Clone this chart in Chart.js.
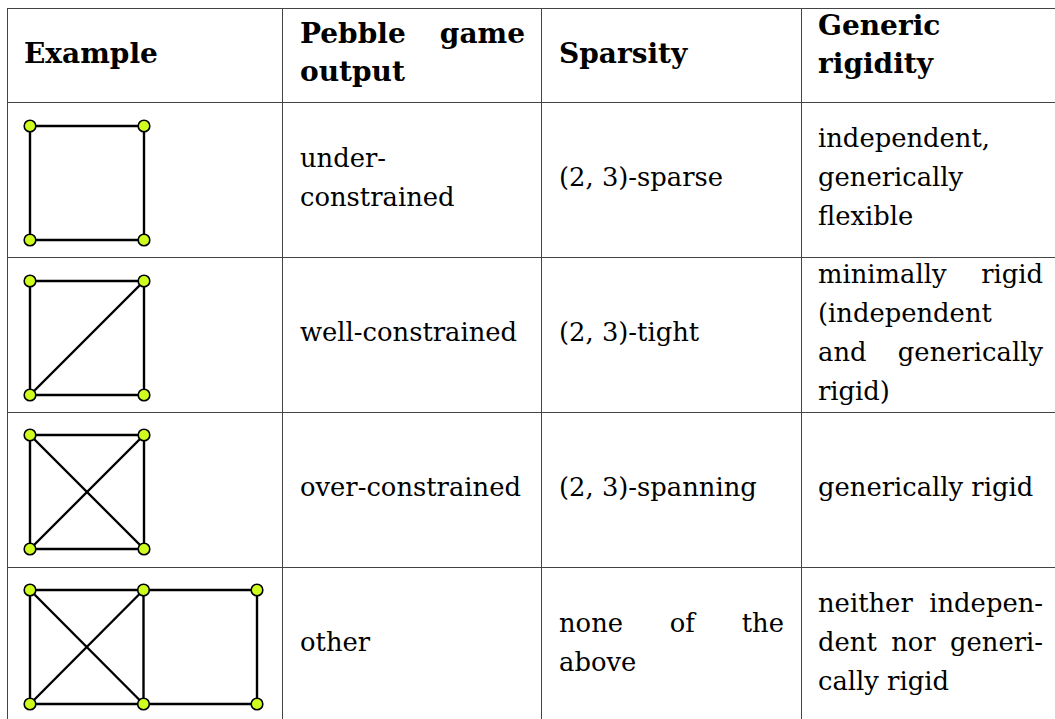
<!DOCTYPE html>
<html>
<head>
<meta charset="utf-8">
<script src="https://cdn.jsdelivr.net/npm/chart.js@4.4.0/dist/chart.umd.min.js"></script>
<style>
  body { margin: 0; width: 1055px; height: 719px; overflow: hidden; background: #fff; position: relative;
         font-family: "DejaVu Serif", serif; color: #000; }
  .hline { position: absolute; left: 7px; width: 1100px; height: 1px; background: #444; }
  .vline { position: absolute; top: 8px; height: 800px; width: 1px; background: #444; }
  .cell { position: absolute; display: flex; flex-direction: column; justify-content: center; }
  .cell div { width: 225px; font-size: 25.8px; line-height: 39px; white-space: nowrap; }
  .cell.head div { font-weight: bold; font-size: 28px; line-height: 38px; }
  .cell div.just { white-space: normal; text-align: justify; text-align-last: justify; }
  canvas { position: absolute; }
</style>
</head>
<body>
<script>
// table text, one entry per line as typeset
const headers = [['Example'], ['Pebble game', 'output'], ['Sparsity'], ['Generic', 'rigidity']];
const outputs = [['under-', 'constrained'], ['well-constrained'], ['over-constrained'], ['other']];
const sparsity = [['(2, 3)-sparse'], ['(2, 3)-tight'], ['(2, 3)-spanning'], ['none of the', 'above']];
const rigidity = [
  ['independent,', 'generically', 'flexible'],
  ['minimally rigid', '(independent', 'and generically', 'rigid)'],
  ['generically rigid'],
  ['neither indepen-', 'dent nor generi-', 'cally rigid']
];

// example graphs: node positions in unit squares, edges as node index pairs
const squareNodes = [[0, 0], [1, 0], [1, 1], [0, 1]];
const wideNodes = [[0, 0], [1, 0], [2, 0], [2, 1], [1, 1], [0, 1]];
const edgesUnder = [[0, 1], [1, 2], [2, 3], [3, 0]];
const edgesWell = [[0, 1], [1, 2], [2, 3], [3, 0], [0, 2]];
const edgesOver = [[0, 1], [1, 2], [2, 3], [3, 0], [0, 2], [1, 3]];
const edgesOther = [[0, 1], [1, 2], [2, 3], [3, 4], [4, 5], [5, 0], [1, 4], [0, 4], [1, 5]];
const graphs = [
  [squareNodes, edgesUnder],
  [squareNodes, edgesWell],
  [squareNodes, edgesOver],
  [wideNodes, edgesOther]
];

// layout
const rowLines = [8, 102, 257, 412, 567, 722];
const colLines = [7, 282, 541, 801];
const textLeft = [300, 559, 818];
const headShift = [-1, -2.3, -1.5, -10.5];
const bodyShift = -2;
const unit = 113.5;
const pad = 10;
const nodeLeft = 30.3;
const nodeTops = [125.7, 280.7, 435.3, 590];
const nodeColor = 'rgb(206, 252, 30)';

rowLines.slice(0, 5).forEach(y => {
  let d = document.createElement('div');
  d.className = 'hline';
  d.style.top = y + 'px';
  document.body.appendChild(d);
});
colLines.forEach(x => {
  let d = document.createElement('div');
  d.className = 'vline';
  d.style.left = x + 'px';
  document.body.appendChild(d);
});

function addCell(lines, left, top, bottom, shift, head) {
  let c = document.createElement('div');
  c.className = head ? 'cell head' : 'cell';
  c.style.left = left + 'px';
  c.style.top = top + 'px';
  c.style.height = (bottom - top) + 'px';
  c.style.transform = 'translateY(' + shift + 'px)';
  lines.forEach((line, k) => {
    let l = document.createElement('div');
    l.textContent = line;
    // LaTeX justifies every line but the last one, if it has a space
    if (k < lines.length - 1 && line.includes(' ')) l.className = 'just';
    c.appendChild(l);
  });
  document.body.appendChild(c);
}

// header row
addCell(headers[0], 24, rowLines[0], rowLines[1], headShift[0], true);
headers.slice(1).forEach((h, i) => addCell(h, textLeft[i], rowLines[0], rowLines[1], headShift[i + 1], true));

// body rows
for (let r = 0; r < 4; r++) {
  [outputs[r], sparsity[r], rigidity[r]].forEach((lines, i) => {
    addCell(lines, textLeft[i], rowLines[r + 1], rowLines[r + 2], bodyShift, false);
  });
}

function drawGraph(r, nodes, edges) {
  let cols = Math.max(...nodes.map(n => n[0]));
  let canvas = document.createElement('canvas');
  canvas.width = Math.round(unit * cols + pad * 2);
  canvas.height = Math.round(unit + pad * 2);
  canvas.style.left = (nodeLeft - pad) + 'px';
  canvas.style.top = (nodeTops[r] - pad) + 'px';
  document.body.appendChild(canvas);

  let pt = n => ({ x: n[0], y: n[1] });
  let datasets = edges.map(e => ({
    data: [pt(nodes[e[0]]), pt(nodes[e[1]])],
    showLine: true,
    borderColor: '#000',
    borderWidth: 2.4,
    pointRadius: 0,
    clip: false,
    order: 1
  }));
  datasets.push({
    data: nodes.map(pt),
    showLine: false,
    pointRadius: 5.8,
    pointBackgroundColor: nodeColor,
    pointBorderColor: '#000',
    pointBorderWidth: 1.6,
    clip: false,
    order: 0
  });

  new Chart(canvas.getContext('2d'), {
    type: 'scatter',
    data: { datasets: datasets },
    options: {
      responsive: false,
      animation: false,
      devicePixelRatio: 1,
      events: [],
      layout: { padding: pad },
      plugins: { legend: { display: false }, tooltip: { enabled: false } },
      scales: {
        x: { type: 'linear', min: 0, max: cols, display: false },
        y: { type: 'linear', min: 0, max: 1, display: false }
      }
    }
  });
}

graphs.forEach((g, r) => drawGraph(r, g[0], g[1]));
</script>
</body>
</html>
